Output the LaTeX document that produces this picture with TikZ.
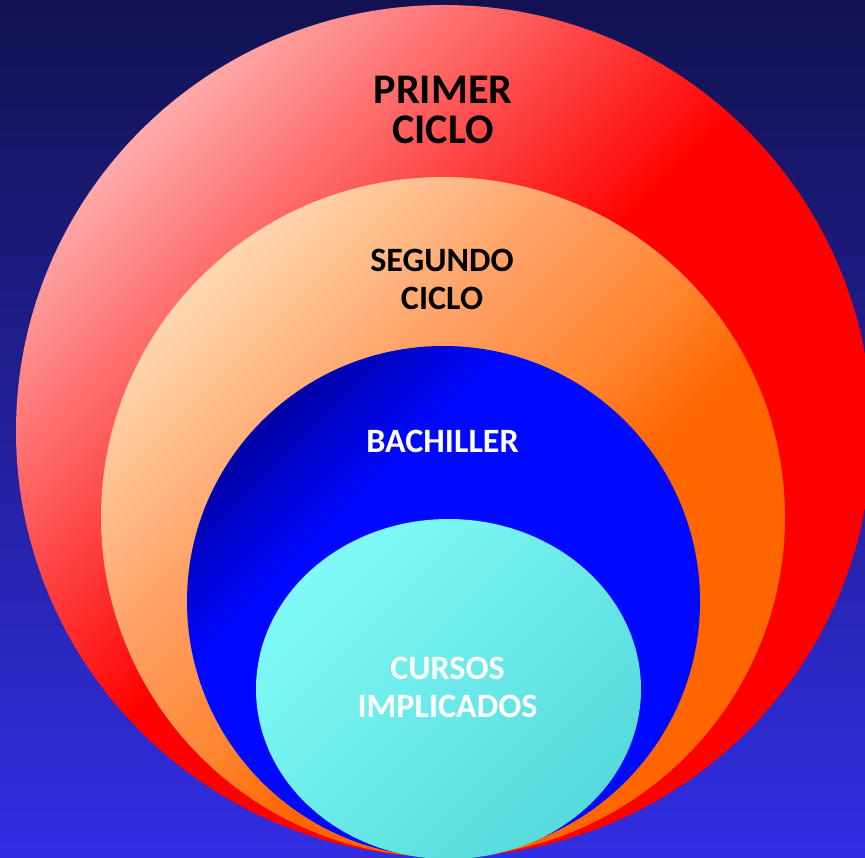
\documentclass[tikz,border=0pt]{standalone}
\usepackage{fontspec}
\setmainfont{Carlito}
\definecolor{bgtop}{RGB}{18,18,80}
\definecolor{bgbot}{RGB}{50,46,228}
\definecolor{ringred}{RGB}{255,0,0}
\definecolor{ringpink}{RGB}{255,170,170}
\definecolor{orpeach}{RGB}{255,215,175}
\definecolor{orlight}{RGB}{255,160,100}
\definecolor{ormid}{RGB}{255,135,50}
\definecolor{orfull}{RGB}{255,102,0}
\definecolor{bluedark}{RGB}{0,0,165}
\definecolor{bluecore}{RGB}{0,8,255}
\definecolor{cyanlight}{RGB}{128,250,248}
\definecolor{cyandark}{RGB}{86,218,218}
\pgfdeclareverticalshading{redring}{100bp}{color(0bp)=(ringred); color(51bp)=(ringred); color(75bp)=(ringpink); color(100bp)=(ringpink)}
\pgfdeclareverticalshading{orring}{100bp}{color(0bp)=(orfull); color(42.5bp)=(orfull); color(50bp)=(ormid); color(60bp)=(orlight); color(75bp)=(orpeach); color(100bp)=(orpeach)}
\pgfdeclareverticalshading{bluering}{100bp}{color(0bp)=(bluecore); color(63bp)=(bluecore); color(75bp)=(bluedark); color(100bp)=(bluedark)}
\pgfdeclareverticalshading{cyanring}{100bp}{color(0bp)=(cyandark); color(25bp)=(cyandark); color(75bp)=(cyanlight); color(100bp)=(cyanlight)}

\begin{document}
\begin{tikzpicture}[x=0.01cm,y=0.01cm]
\tikzstyle{every node}=[inner sep=0pt,align=center]
\tikzstyle{big}=[font=\fontsize{12}{11.4}\selectfont\bfseries]
\tikzstyle{small}=[font=\fontsize{9.7}{10.8}\selectfont\bfseries]
\useasboundingbox (0,0) rectangle (865,857);
\clip (0,0) rectangle (865,857);
\shade[top color=bgtop,bottom color=bgbot] (0,0) rectangle (865,857);

\shade[shading=redring,shading angle=45] (444,426) ellipse [x radius=428,y radius=426];
\shade[shading=orring,shading angle=45] (443,340) ellipse [x radius=342,y radius=340];
\shade[shading=bluering,shading angle=45] (443.5,255.5) ellipse [x radius=256.5,y radius=255.5];
\shade[shading=cyanring,shading angle=45] (448.5,168) ellipse [x radius=192.5,y radius=170];

\node[big,text=black](P) at (443,747) {PRIMER\\CICLO};
\node[small,text=black](S) at (442,578) {SEGUNDO\\CICLO};
\node[small,text=white](B) at (442.5,416) {BACHILLER};
\node[small,text=white](C) at (447.5,170) {CURSOS\\IMPLICADOS};
\end{tikzpicture}
\end{document}
